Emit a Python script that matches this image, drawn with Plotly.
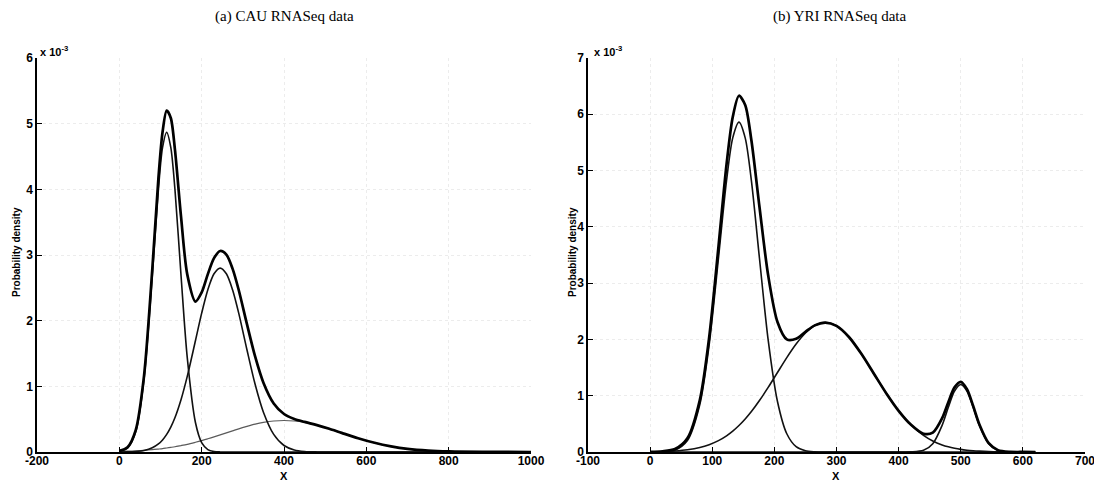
import plotly.graph_objects as go

# ---------------- data (densities in units of 1e-3) ----------------
# (a) CAU RNASeq data
cau_x = [0, 20, 40, 60, 80, 95, 105, 115, 125, 135, 150, 165, 185, 200, 215, 230, 245,
         260, 275, 290, 310, 330, 350, 375, 400, 425, 450, 480, 510, 540, 580, 620,
         660, 700, 750, 800, 900, 1000]
cau_mix = [0.017, 0.074, 0.338, 1.160, 2.776, 4.174, 4.874, 5.199, 5.087, 4.607, 3.575,
           2.705, 2.291, 2.430, 2.709, 2.952, 3.061, 3.005, 2.793, 2.467, 1.947, 1.451,
           1.056, 0.740, 0.579, 0.503, 0.458, 0.409, 0.353, 0.291, 0.210, 0.140, 0.086,
           0.048, 0.021, 0.008, 0.001, 0.0]
cau_c1 = [0.008, 0.059, 0.312, 1.111, 2.677, 4.006, 4.638, 4.870, 4.638, 4.006, 2.677,
          1.437, 0.445, 0.143, 0.037, 0.008, 0.001, 0, 0, 0, 0, 0, 0, 0, 0, 0, 0, 0, 0,
          0, 0, 0, 0, 0, 0, 0, 0, 0]
cau_c2 = [0.001, 0.0025, 0.008, 0.024, 0.064, 0.123, 0.184, 0.268, 0.379, 0.521, 0.800,
          1.151, 1.698, 2.114, 2.471, 2.714, 2.800, 2.714, 2.471, 2.114, 1.557, 1.027,
          0.606, 0.268, 0.099, 0.031, 0.008, 0.001, 0, 0, 0, 0, 0, 0, 0, 0, 0, 0]
cau_c3 = [0.008, 0.012, 0.018, 0.025, 0.035, 0.045, 0.052, 0.061, 0.070, 0.080, 0.098,
          0.117, 0.148, 0.173, 0.201, 0.230, 0.260, 0.291, 0.322, 0.353, 0.390, 0.424,
          0.450, 0.472, 0.480, 0.472, 0.450, 0.408, 0.353, 0.291, 0.210, 0.140, 0.086,
          0.048, 0.021, 0.008, 0.001, 0.0]

# (b) YRI RNASeq data
yri_x = [0, 20, 40, 60, 80, 95, 110, 123, 133, 143, 153, 163, 176, 190, 205, 220, 235,
         250, 265, 282, 300, 320, 340, 360, 380, 400, 420, 440, 455, 470, 480, 490, 500,
         510, 520, 530, 545, 560, 580, 600, 620]
yri_mix = [0.004, 0.012, 0.052, 0.243, 0.924, 2.033, 3.645, 5.108, 5.952, 6.330, 6.167,
           5.538, 4.357, 3.140, 2.310, 2.001, 2.012, 2.136, 2.250, 2.300, 2.240, 2.043,
           1.744, 1.395, 1.045, 0.732, 0.483, 0.325, 0.344, 0.600, 0.886, 1.148, 1.246,
           1.114, 0.816, 0.489, 0.156, 0.033, 0.003, 0.0005, 0.0]
yri_c1 = [0.0003, 0.0036, 0.033, 0.203, 0.844, 1.903, 3.443, 4.820, 5.581, 5.860, 5.581,
          4.820, 3.443, 1.993, 0.897, 0.324, 0.094, 0.022, 0.004, 0, 0, 0, 0, 0, 0, 0,
          0, 0, 0, 0, 0, 0, 0, 0, 0, 0, 0, 0, 0, 0, 0]
yri_c2 = [0.0033, 0.0082, 0.019, 0.040, 0.080, 0.130, 0.202, 0.288, 0.371, 0.470, 0.586,
          0.718, 0.914, 1.147, 1.413, 1.677, 1.918, 2.114, 2.246, 2.300, 2.240, 2.043,
          1.744, 1.395, 1.045, 0.732, 0.481, 0.296, 0.196, 0.126, 0.092, 0.066, 0.046,
          0.032, 0.022, 0.015, 0.008, 0.004, 0.0016, 0.0005, 0.0001]
yri_c3 = [0, 0, 0, 0, 0, 0, 0, 0, 0, 0, 0, 0, 0, 0, 0, 0, 0, 0, 0, 0, 0, 0, 0, 0, 0, 0,
          0.0016, 0.029, 0.148, 0.474, 0.794, 1.082, 1.200, 1.082, 0.794, 0.474, 0.148,
          0.029, 0.0016, 0, 0]

cau_xticks = [-200, 0, 200, 400, 600, 800, 1000]
yri_xticks = [-100, 0, 100, 200, 300, 400, 500, 600, 700]
cau_yticks = [0, 1, 2, 3, 4, 5, 6]
yri_yticks = [0, 1, 2, 3, 4, 5, 6, 7]

titles = ["(a) CAU RNASeq data", "(b) YRI RNASeq data"]

# ---------------- figure ----------------
# The page body has an 8 px margin, so the figure is drawn 8 px smaller and
# all screen-pixel targets are shifted by 8 px.
OFF = 8
W, H = 1102 - OFF, 482 - OFF

def px(xs):
    return (xs - OFF) / W

def py(ys):
    return 1 - (ys - OFF) / H

fig = go.Figure()

def add_curve(x, y, xa, ya, width, color):
    fig.add_trace(go.Scatter(x=x, y=y, xaxis=xa, yaxis=ya, mode="lines",
                             line=dict(color=color, width=width, shape="spline", smoothing=0.8),
                             showlegend=False, hoverinfo="skip"))

add_curve(cau_x, cau_c3, "x", "y", 1.2, "#5a5a5a")
add_curve(cau_x, cau_c2, "x", "y", 1.6, "#111111")
add_curve(cau_x, cau_c1, "x", "y", 1.6, "#111111")
add_curve(cau_x, cau_mix, "x", "y", 2.7, "#000000")

add_curve(yri_x, yri_c2, "x2", "y2", 1.6, "#111111")
add_curve(yri_x, yri_c3, "x2", "y2", 1.6, "#111111")
add_curve(yri_x, yri_c1, "x2", "y2", 1.6, "#111111")
add_curve(yri_x, yri_mix, "x2", "y2", 2.7, "#000000")

tickfont = dict(family="Liberation Sans, Arial, sans-serif", size=12, color="black", weight="bold")
grid = dict(showgrid=True, gridcolor="#ececec", griddash="dot", gridwidth=1)

def xaxis(x0, x1, rng, ticks, anchor):
    return dict(domain=[px(x0), px(x1)], range=rng, anchor=anchor,
                tickvals=ticks, ticktext=[str(t) for t in ticks],
                showline=True, linecolor="black", linewidth=1.5, mirror=False,
                ticks="inside", ticklen=5, tickwidth=1.2, tickcolor="black",
                zeroline=False, tickfont=tickfont, fixedrange=True, automargin=False,
                ticklabelstandoff=-3, **grid)

def yaxis(anchor, rng, ticks):
    return dict(domain=[py(452), py(58)], range=rng, anchor=anchor,
                tickvals=ticks, ticktext=[str(t) for t in ticks],
                showline=True, linecolor="black", linewidth=1.5, mirror=False,
                ticks="inside", ticklen=5, tickwidth=1.2, tickcolor="black",
                zeroline=False, tickfont=tickfont, fixedrange=True, automargin=False,
                **grid)

fig.update_layout(
    width=W, height=H,
    margin=dict(l=0, r=0, t=0, b=0, autoexpand=False),
    paper_bgcolor="white", plot_bgcolor="white",
    xaxis=xaxis(37, 531, [-200, 1000], cau_xticks, "y"),
    yaxis=yaxis("x", [0, 6], cau_yticks),
    xaxis2=xaxis(588, 1085, [-100, 700], yri_xticks, "y2"),
    yaxis2=yaxis("x2", [0, 7], yri_yticks),
)

ann = []
for cx, t in [(284, titles[0]), (840, titles[1])]:
    ann.append(dict(x=px(cx), y=py(17), xref="paper", yref="paper", text=t,
                    showarrow=False, xanchor="center", yanchor="middle",
                    font=dict(family="Liberation Serif, Times New Roman, serif", size=15, color="black")))
for cx in [284, 836]:
    ann.append(dict(x=px(cx), y=py(476), xref="paper", yref="paper", text="X",
                    showarrow=False, xanchor="center", yanchor="middle",
                    font=dict(family="Liberation Sans, Arial, sans-serif", size=11, color="black", weight="bold")))
for cx in [16, 572]:
    ann.append(dict(x=px(cx), y=py(252), xref="paper", yref="paper", text="Probability density",
                    showarrow=False, xanchor="center", yanchor="middle", textangle=-90,
                    font=dict(family="Liberation Sans, Arial, sans-serif", size=10, color="black", weight="bold")))
for cx in [38, 592]:
    ann.append(dict(x=px(cx), y=py(51), xref="paper", yref="paper", text="x 10<sup>-3</sup>",
                    showarrow=False, xanchor="left", yanchor="middle",
                    font=dict(family="Liberation Sans, Arial, sans-serif", size=11, color="black", weight="bold")))
fig.update_layout(annotations=ann)

fig.write_html("out.html")
